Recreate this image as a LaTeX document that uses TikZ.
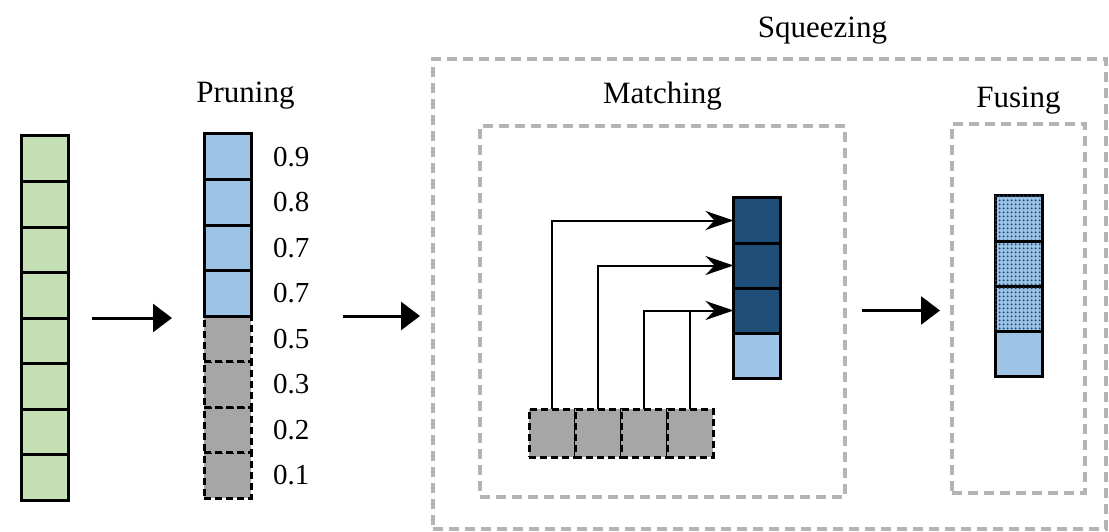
\documentclass[tikz,border=0pt]{standalone}
\usepackage{fontspec}
\setmainfont{Liberation Serif}
\usetikzlibrary{arrows.meta,positioning,patterns.meta}

\definecolor{cellgreen}{HTML}{C5E0B4}
\definecolor{keepblue}{HTML}{9DC3E6}
\definecolor{deepblue}{HTML}{1F4E79}
\definecolor{dropgray}{HTML}{A6A6A6}
\definecolor{framegray}{HTML}{B4B4B4}

\begin{document}
\begin{tikzpicture}[
			x=1pt, y=-1pt,
			cell/.style={rectangle, draw, line width=3pt, inner sep=0pt, outer sep=0pt, minimum width=47pt, minimum height=45.5pt},
			pruned/.style={cell, fill=dropgray, dash pattern=on 7pt off 4pt},
			fused/.style={cell, minimum height=45.25pt, fill=keepblue, postaction={pattern={Dots[distance=4pt,radius=1.3pt]}, pattern color=deepblue}},
			region/.style={rectangle, draw=framegray, line width=4pt, dash pattern=on 10pt off 6pt, inner sep=0pt, outer sep=0pt},
			title/.style={font=\fontsize{31}{36}\selectfont, inner sep=0pt},
			score/.style={font=\fontsize{29}{34}\selectfont, inner sep=0pt},
			bigarrow/.style={line width=3pt, -{Triangle[length=19pt,width=28pt]}},
			link/.style={line width=2pt, -{Stealth[length=28pt,width=19pt,inset=9pt]}}
		]
		\useasboundingbox (0,0) rectangle (1109,532);

		% input tokens
		\node[cell, fill=cellgreen] (g1) at (44.5,158.75) {};
		\node[cell, fill=cellgreen, below=0pt of g1] (g2) {};
		\node[cell, fill=cellgreen, below=0pt of g2] (g3) {};
		\node[cell, fill=cellgreen, below=0pt of g3] (g4) {};
		\node[cell, fill=cellgreen, below=0pt of g4] (g5) {};
		\node[cell, fill=cellgreen, below=0pt of g5] (g6) {};
		\node[cell, fill=cellgreen, below=0pt of g6] (g7) {};
		\node[cell, fill=cellgreen, below=0pt of g7] (g8) {};

		% pruning, built from the bottom so the kept cells sit on top
		\node[pruned] (p8) at (227.5,475.25) {};
		\node[pruned, above=0pt of p8] (p7) {};
		\node[pruned, above=0pt of p7] (p6) {};
		\node[pruned, above=0pt of p6] (p5) {};
		\node[cell, fill=keepblue, above=0pt of p5] (p4) {};
		\node[cell, fill=keepblue, above=0pt of p4] (p3) {};
		\node[cell, fill=keepblue, above=0pt of p3] (p2) {};
		\node[cell, fill=keepblue, above=0pt of p2] (p1) {};

		\node[score, right=22pt of p1] (l1) {0.9};
		\node[score, right=22pt of p2] (l2) {0.8};
		\node[score, right=22pt of p3] (l3) {0.7};
		\node[score, right=22pt of p4] (l4) {0.7};
		\node[score, right=22pt of p5] (l5) {0.5};
		\node[score, right=22pt of p6] (l6) {0.3};
		\node[score, right=22pt of p7] (l7) {0.2};
		\node[score, right=22pt of p8] (l8) {0.1};

		\node[title, above=25pt of p1.north, xshift=18pt] (prunelbl) {Pruning};

		% squeezing stage
		\node[region, minimum width=673pt, minimum height=470pt] (squeeze) at (769.5,294) {};
		\node[region, minimum width=365pt, minimum height=371pt] (match) at (662.5,311.5) {};
		\node[region, minimum width=133pt, minimum height=369pt] (fuse) at (1018.5,308.5) {};

		\node[title, above=15pt of squeeze.north, xshift=53pt] (squeezelbl) {Squeezing};
		\node[title, above=16pt of match.north] (matchlbl) {Matching};
		\node[title, above=10pt of fuse.north] (fuselbl) {Fusing};

		% matching
		\node[cell, fill=deepblue, minimum height=45pt] (m1) at (757,220.5) {};
		\node[cell, fill=deepblue, minimum height=45pt, below=0pt of m1] (m2) {};
		\node[cell, fill=deepblue, minimum height=45pt, below=0pt of m2] (m3) {};
		\node[cell, fill=keepblue, minimum height=45pt, below=0pt of m3] (m4) {};

		\node[pruned, minimum width=46pt, minimum height=48pt] (s1) at (552,433) {};
		\node[pruned, minimum width=46pt, minimum height=48pt, right=0pt of s1] (s2) {};
		\node[pruned, minimum width=46pt, minimum height=48pt, right=0pt of s2] (s3) {};
		\node[pruned, minimum width=46pt, minimum height=48pt, right=0pt of s3] (s4) {};

		\draw[link] (s1.north) |- (m1.west);
		\draw[link] (s2.north) |- (m2.west);
		\draw[link] (s3.north) |- (m3.west);
		\draw[line width=2pt] (s4.north) -- (s4.north |- m3.west);

		% fusing
		\node[fused] (f1) at (1018.5,218.6) {};
		\node[fused, below=0pt of f1] (f2) {};
		\node[fused, below=0pt of f2] (f3) {};
		\node[cell, fill=keepblue, minimum height=45.25pt, below=0pt of f3] (f4) {};

		% stage arrows
		\draw[bigarrow, shorten <=24pt, shorten >=32pt] (g4.south east) -- (g4.south east -| p4.west);
		\draw[bigarrow, shorten <=33pt, shorten >=13pt] (p4.south east -| l4.east) -- (p4.south east -| squeeze.west);
		\draw[bigarrow, shorten <=17pt, shorten >=12pt] (m3 -| match.east) -- (m3 -| fuse.west);

	\end{tikzpicture}
\end{document}
